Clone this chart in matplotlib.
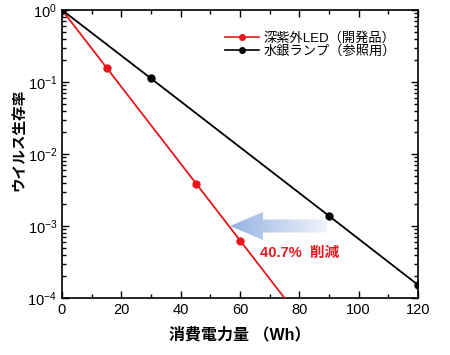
import numpy as np
import matplotlib
matplotlib.use("Agg")
import matplotlib.pyplot as plt
from matplotlib.patches import Polygon
from matplotlib.lines import Line2D
from matplotlib.ticker import LogLocator, MultipleLocator, NullFormatter

plt.rcParams['font.family'] = ['Liberation Sans', 'Noto Sans CJK JP', 'DejaVu Sans']

# Data
led_x = [0, 15, 45, 60]
led_y = [1.0, 0.157, 0.0038, 0.00062]
led_fit_x = [0, 75]
led_fit_y = [1.0, 1e-4]
hg_x = [0, 30, 90, 120]
hg_y = [1.0, 0.112, 0.00138, 0.000152]
led_label = "深紫外LED（開発品）"
hg_label = "水銀ランプ（参照用）"
xlabel = "消費電力量 （Wh）"
ylabel = "ウイルス生存率"
annot = "40.7%  削減"

fig = plt.figure(figsize=(4.5, 3.55), dpi=100)
ax = fig.add_axes([62/450, 1-298/355, (418-62)/450, (298-10)/355])

ax.plot(led_fit_x, led_fit_y, color='#e8161c', lw=1.3, zorder=3)
ax.plot(led_x, led_y, color='#e8161c', lw=0, marker='o', ms=5, zorder=4)
ax.plot(hg_x, hg_y, color='black', lw=1.3, marker='o', ms=5, zorder=4)

ax.set_yscale('log')
ax.set_xlim(0, 120)
ax.set_ylim(1e-4, 1)
ax.xaxis.set_major_locator(MultipleLocator(20))
ax.xaxis.set_minor_locator(MultipleLocator(10))
ax.yaxis.set_major_locator(LogLocator(base=10, numticks=10))
ax.yaxis.set_minor_locator(LogLocator(base=10, subs=np.arange(2, 10), numticks=10))
ax.yaxis.set_minor_formatter(NullFormatter())
ax.tick_params(which='both', direction='in', top=True, right=True, labelsize=10.5, width=1)
ax.tick_params(which='major', length=5)
ax.tick_params(which='minor', length=3)
for s in ax.spines.values():
    s.set_linewidth(1.2)

ax.set_xlabel(xlabel, fontsize=11.5, fontweight='bold', labelpad=7)
ax.set_ylabel(ylabel, fontsize=10.5, fontweight='bold')
ax.yaxis.set_label_coords(-0.1, 0.55)

h1 = Line2D([], [], color='#e8161c', lw=1.2, marker='o', ms=4)
h2 = Line2D([], [], color='black', lw=1.2, marker='o', ms=4)
ax.legend([h1, h2], [led_label, hg_label], loc='upper right', frameon=False,
          fontsize=9.5, handlelength=2.6, handletextpad=0.35, labelspacing=0.05,
          bbox_to_anchor=((396-62)/356, (298-32)/288), borderaxespad=0.0, borderpad=0.0)

# overlay in pixel coords
ov = fig.add_axes([0, 0, 1, 1], zorder=2)
ov.set_xlim(0, 450); ov.set_ylim(355, 0); ov.axis('off'); ov.patch.set_alpha(0)
ov.text(260, 253, annot, fontsize=10.5, fontweight='bold', color='#e8161c',
        va='center', ha='left')
cy = 226
poly = [(230, cy), (263, cy-14), (263, cy-6.5), (327, cy-6.5), (327, cy+6.5), (263, cy+6.5), (263, cy+14)]
p = Polygon(poly, closed=True, facecolor='none', edgecolor='none')
ov.add_patch(p)
c0 = np.array([0.58, 0.70, 0.88]); c1 = np.array([0.94, 0.96, 0.99])
t = np.linspace(0, 1, 256)
grad = (c0[None, :] * (1 - t[:, None]) + c1[None, :] * t[:, None])[None, :, :]
im = ov.imshow(grad, extent=(230, 327, cy+14, cy-14), aspect='auto', zorder=2)
im.set_clip_path(p)
ov.set_xlim(0, 450); ov.set_ylim(355, 0)

fig.savefig('out.png', dpi=100)
